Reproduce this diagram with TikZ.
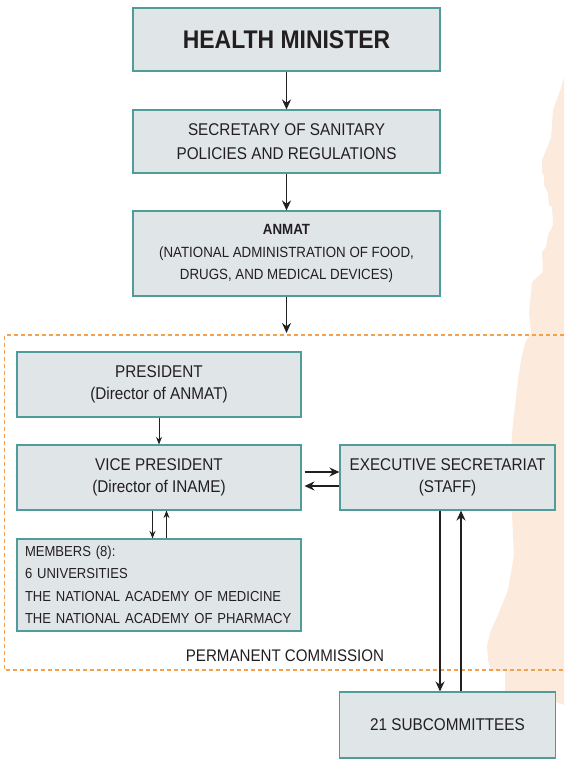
\documentclass[tikz,border=0pt]{standalone}
\usepackage{fontspec}
\setmainfont{Liberation Sans}[FakeStretch=0.9]
\usetikzlibrary{arrows.meta}
\definecolor{boxfill}{HTML}{E0E5E8}
\definecolor{boxline}{HTML}{4F9C9A}
\definecolor{commline}{HTML}{F4A050}
\definecolor{mapfill}{HTML}{FCEBDD}
\definecolor{ink}{HTML}{231F20}
\tikzset{
  org box/.style={draw=boxline, fill=boxfill, line width=1.1pt, text=ink,
        align=center, inner sep=0pt,
        font=\fontsize{17}{22}\selectfont},
  link/.style={draw=ink, line width=1.6pt, -{Stealth[length=10pt,width=9pt]}},
  thin link/.style={draw=ink, line width=1pt, -{Stealth[length=7.5pt,width=6pt]}},
  commission/.style={draw=commline, line width=1.3pt, dash pattern=on 4pt off 3pt}
}
\def\OrgBox#1#2#3#4#5#6{%
  \node[org box, minimum width=#3pt, minimum height=#4pt, #5] (#1) at (#2) {#6};
}

\begin{document}
\begin{tikzpicture}[x=1pt, y=-1pt]
\useasboundingbox (0,0) rectangle (564,759);
% map in the background
\fill[mapfill] (564,78) -- (561,88) -- (553,110) -- (551,138) -- (542,160)
  -- (542,172) -- (544,176) -- (544,185) -- (548,193) -- (549,205)
  -- (552,207) -- (553,225) -- (548,235) -- (546,247) -- (542,252)
  -- (543,272) -- (532,282) -- (529,313) -- (531,333) -- (525,343)
  -- (521,360) -- (518,380) -- (516,397) -- (512,433) -- (510,470)
  -- (512,515) -- (514,555) -- (508,590) -- (498,615) -- (491,630)
  -- (487,645) -- (488,660) -- (491,671) -- (505,671) -- (505,693)
  -- (556,693) -- (556,702) -- (564,705) -- cycle;
% permanent commission frame
\draw[commission] (564,335) -| (4.7,670) -- (564,670);
\node[text=ink, font=\fontsize{16.8}{20}\selectfont] (permcomm) at (285,656) {PERMANENT COMMISSION};
\coordinate (commtop) at (286.5,333);

\OrgBox{minister}{286.5,39.5}{307}{63}{font=\fontsize{25.5}{30}\selectfont\bfseries}{HEALTH MINISTER}
\OrgBox{secretary}{286.5,141.5}{307}{63}{font=\fontsize{17}{23.5}\selectfont}{SECRETARY OF SANITARY\\POLICIES AND REGULATIONS}
\OrgBox{anmat}{286.5,253.5}{307}{85}{font=\fontsize{14.8}{22.5}\selectfont}{\textbf{ANMAT}\\(NATIONAL ADMINISTRATION OF FOOD,\\DRUGS, AND MEDICAL DEVICES)}
\OrgBox{president}{159,384.5}{284}{65}{}{PRESIDENT\\(Director of ANMAT)}
\OrgBox{vicepres}{159,477.5}{284}{65}{}{VICE PRESIDENT\\(Director of INAME)}
\OrgBox{execsec}{447.5,477.5}{215}{65}{}{EXECUTIVE SECRETARIAT\\(STAFF)}
\OrgBox{subcomm}{447.5,725}{216}{66}{}{21 SUBCOMMITTEES}
\OrgBox{members}{159,585}{284}{92}{text width=268pt, inner xsep=8pt, align=left,
      font=\fontsize{14.5}{22.5}\selectfont}{MEMBERS (8):\\6 UNIVERSITIES\\THE NATIONAL ACADEMY OF MEDICINE\\THE NATIONAL ACADEMY OF PHARMACY}

\draw[link] (minister) -- (secretary);
\draw[link] (secretary) -- (anmat);
\draw[link] (anmat) -- (commtop);
\draw[thin link] (president) -- (vicepres);
\draw[link] ([yshift=5.5pt]vicepres.east) ++(3,0) -- ([yshift=5.5pt]execsec.west);
\draw[link] ([yshift=-8.5pt]execsec.west) -- ++(-35,0);
\draw[thin link] ([xshift=-6.5pt]vicepres.south) -- ([xshift=-6.5pt]members.north);
\draw[thin link] ([xshift=7.5pt]members.north) -- ([xshift=7.5pt]vicepres.south);
\draw[link] ([xshift=-7.5pt]execsec.south) -- ([xshift=-7.5pt]subcomm.north);
\draw[link] ([xshift=13.5pt]subcomm.north) -- ([xshift=13.5pt]execsec.south);
\end{tikzpicture}
\end{document}
